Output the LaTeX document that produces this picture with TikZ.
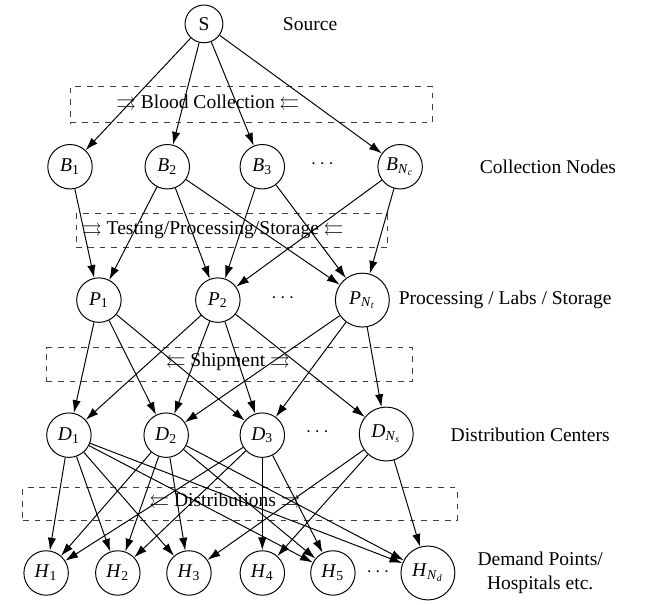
\documentclass[tikz,border=0pt]{standalone}
\usepackage{amssymb}
\usepackage{fontspec}
\setmainfont{Liberation Serif}
\usepackage{tikz}
\usetikzlibrary{arrows.meta,positioning}
\newcommand{\nodelbl}[2]{\textit{#1}\textsubscript{#2}}
\newcommand{\nodelbln}[2]{\textit{#1}\textsubscript{\textit{N}\textsubscript{\textit{#2}}}}
\tikzset{
  stage/.style={draw=black, circle, line width=0.5pt, minimum size=0.8cm, inner sep=1pt, font=\normalsize},
  bigstage/.style={stage, minimum size=0.97cm},
  srcnode/.style={stage, minimum size=0.68cm},
  phasebox/.style={draw=black!75, dashed, line width=0.5pt, inner sep=0pt},
  phaselabel/.style={font=\normalsize, inner sep=1pt},
  sidelabel/.style={font=\normalsize, align=center},
  flow/.style={-{Latex[length=2.3mm,width=1.5mm]}, draw=black, line width=0.5pt}
}

\begin{document}
\begin{tikzpicture}[x=1cm,y=1cm]
  \useasboundingbox (0,0) rectangle (12.02,10.87);

  % phase boxes
  \node[phasebox, minimum width=6.52cm, minimum height=0.65cm] (collectBox) at (4.52,8.985) {};
  \node[phasebox, minimum width=5.61cm, minimum height=0.61cm] (testBox) at (4.175,6.715) {};
  \node[phasebox, minimum width=6.60cm, minimum height=0.61cm] (shipBox) at (4.13,4.305) {};
  \node[phasebox, minimum width=7.82cm, minimum height=0.58cm] (distBox) at (4.32,1.80) {};

  \node[phaselabel] (collectText) at (3.74,9.0) {$\rightrightarrows$ Blood Collection $\leftleftarrows$};
  \node[phaselabel] (testText) at (3.83,6.73) {$\rightrightarrows$ Testing/Processing/Storage $\leftleftarrows$};
  \node[phaselabel] (shipText) at (4.10,4.36) {$\leftleftarrows$ Shipment $\rightrightarrows$};
  \node[phaselabel] (distText) at (4.05,1.84) {$\leftleftarrows$ Distributions $\rightrightarrows$};

  % layers
  \node[srcnode] (src) at (3.67,10.44) {S};

  \node[stage] (b1) at (1.26,7.87) {\nodelbl{B}{1}};
  \node[stage] (b2) at (3.01,7.87) {\nodelbl{B}{2}};
  \node[stage] (b3) at (4.72,7.87) {\nodelbl{B}{3}};
  \node (bdots) at (5.80,7.92) {$\cdots$};
  \node[stage] (bn) at (7.20,7.87) {\nodelbln{B}{c}};

  \node[stage] (p1) at (1.78,5.47) {\nodelbl{P}{1}};
  \node[stage] (p2) at (3.92,5.47) {\nodelbl{P}{2}};
  \node (pdots) at (5.09,5.50) {$\cdots$};
  \node[bigstage] (pn) at (6.52,5.47) {\nodelbln{P}{t}};

  \node[stage] (d1) at (1.24,3.04) {\nodelbl{D}{1}};
  \node[stage] (d2) at (2.99,3.04) {\nodelbl{D}{2}};
  \node[stage] (d3) at (4.72,3.04) {\nodelbl{D}{3}};
  \node (ddots) at (5.71,3.09) {$\cdots$};
  \node[bigstage] (dn) at (6.95,3.06) {\nodelbln{D}{s}};

  \node[stage] (h1) at (0.83,0.56) {\nodelbl{H}{1}};
  \node[stage] (h2) at (2.12,0.56) {\nodelbl{H}{2}};
  \node[stage] (h3) at (3.40,0.56) {\nodelbl{H}{3}};
  \node[stage] (h4) at (4.72,0.56) {\nodelbl{H}{4}};
  \node[stage] (h5) at (5.99,0.56) {\nodelbl{H}{5}};
  \node (hdots) at (6.80,0.58) {$\cdots$};
  \node[bigstage] (hn) at (7.70,0.56) {\nodelbln{H}{d}};

  % side labels
  \node[sidelabel] (srcLabel) at (5.58,10.44) {Source};
  \node[sidelabel] (bLabel) at (9.86,7.87) {Collection Nodes};
  \node[sidelabel] (pLabel) at (9.09,5.47) {Processing / Labs / Storage};
  \node[sidelabel] (dLabel) at (9.54,3.04) {Distribution Centers};
  \node[sidelabel] (hLabel) at (9.72,0.56) {Demand Points/\\Hospitals etc.};

  % source to collection
  \draw[flow] (src) -- (b1);
  \draw[flow] (src) -- (b2);
  \draw[flow] (src) -- (b3);
  \draw[flow] (src) -- (bn);

  % collection to processing
  \draw[flow] (b1) -- (p1);
  \draw[flow] (b2) -- (p1);
  \draw[flow] (b2) -- (p2);
  \draw[flow] (b2) -- (pn);
  \draw[flow] (b3) -- (p2);
  \draw[flow] (b3) -- (pn);
  \draw[flow] (bn) -- (p2);
  \draw[flow] (bn) -- (pn);

  % processing to distribution
  \draw[flow] (p1) -- (d1);
  \draw[flow] (p1) -- (d2);
  \draw[flow] (p1) -- (d3);
  \draw[flow] (p2) -- (d1);
  \draw[flow] (p2) -- (d2);
  \draw[flow] (p2) -- (d3);
  \draw[flow] (p2) -- (dn);
  \draw[flow] (pn) -- (d2);
  \draw[flow] (pn) -- (d3);
  \draw[flow] (pn) -- (dn);

  % distribution to demand points
  \draw[flow] (d1) -- (h1);
  \draw[flow] (d1) -- (h2);
  \draw[flow] (d1) -- (h3);
  \draw[flow] (d1) -- (h5);
  \draw[flow] (d1) -- (hn);
  \draw[flow] (d2) -- (h1);
  \draw[flow] (d2) -- (h2);
  \draw[flow] (d2) -- (h3);
  \draw[flow] (d2) -- (h5);
  \draw[flow] (d2) -- (hn);
  \draw[flow] (d3) -- (h1);
  \draw[flow] (d3) -- (h2);
  \draw[flow] (d3) -- (h4);
  \draw[flow] (d3) -- (h5);
  \draw[flow] (dn) -- (h3);
  \draw[flow] (dn) -- (h4);
  \draw[flow] (dn) -- (hn);
\end{tikzpicture}
\end{document}
